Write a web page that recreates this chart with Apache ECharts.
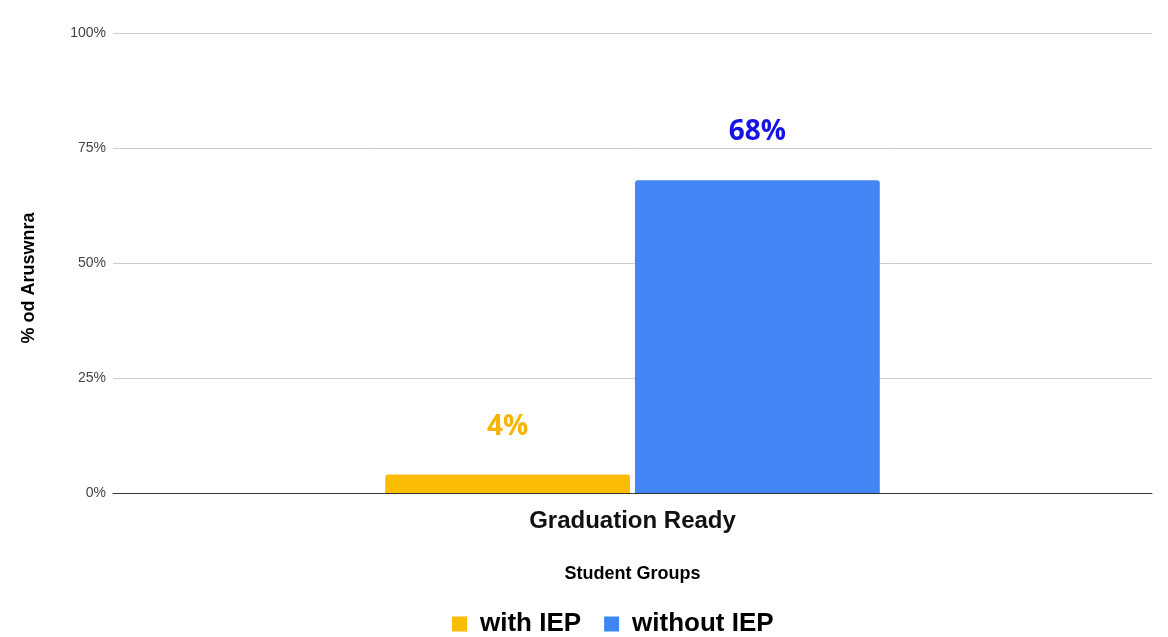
<!DOCTYPE html>
<html>
<head>
<meta charset="utf-8">
<script src="https://cdn.jsdelivr.net/npm/echarts@6/dist/echarts.min.js"></script>
<style>
html,body{margin:0;padding:0;background:#fff;}
#chart{width:1168px;height:637px;}
</style>
</head>
<body>
<div id="chart"></div>
<script>
const categories = ['Graduation Ready'];
const seriesNames = ['with IEP', 'without IEP'];
const withIEP = [4];
const withoutIEP = [68];
const yTicks = [0, 25, 50, 75, 100];

const chart = echarts.init(document.getElementById('chart'));
const labelBase = {
  show: true,
  position: 'top',
  distance: 34,
  fontFamily: 'Open Sans',
  fontWeight: 700,
  fontSize: 28,
  formatter: p => p.value + '%'
};
chart.setOption({
  animation: false,
  color: ['#fbbc04', '#4285f4'],
  grid: { left: 113, right: 16, top: 33, bottom: 144 },
  legend: {
    data: seriesNames,
    bottom: -5,
    left: 447,
    itemWidth: 15,
    itemHeight: 15,
    itemGap: 23,
    icon: 'rect',
    textStyle: { fontFamily: 'Liberation Sans', fontWeight: 700, fontSize: 26, color: '#000', padding: [0,0,0,8] }
  },
  xAxis: {
    type: 'category',
    data: categories,
    name: 'Student Groups',
    nameLocation: 'middle',
    nameGap: 72,
    nameTextStyle: { fontFamily: 'Liberation Sans', fontWeight: 700, fontSize: 18, color: '#000', verticalAlign: 'top' },
    axisTick: { show: false },
    axisLine: { lineStyle: { color: '#333', width: 1 } },
    axisLabel: { fontFamily: 'Liberation Sans', fontWeight: 700, fontSize: 24, color: '#111', margin: 16 }
  },
  yAxis: {
    type: 'value',
    min: yTicks[0],
    max: yTicks[yTicks.length - 1],
    interval: 25,
    name: '% od Aruswnra',
    nameLocation: 'middle',
    nameGap: 75,
    nameTextStyle: { fontFamily: 'Liberation Sans', fontWeight: 700, fontSize: 18, color: '#000', padding: [0, 30, 0, 0] },
    axisLine: { show: false },
    axisTick: { show: false },
    splitLine: { lineStyle: { color: '#cccccc', width: 1 } },
    axisLabel: { fontFamily: 'Liberation Sans', fontSize: 14, color: '#444', margin: 7, formatter: v => v + '%' }
  },
  series: [
    {
      name: seriesNames[0],
      type: 'bar',
      data: withIEP,
      barGap: '2%',
      barCategoryGap: '52.4%',
      itemStyle: { color: '#fbbc04', borderRadius: [3, 3, 0, 0] },
      label: Object.assign({}, labelBase, { color: '#f4b400' })
    },
    {
      name: seriesNames[1],
      type: 'bar',
      data: withoutIEP,
      barGap: '2%',
      barCategoryGap: '52.4%',
      itemStyle: { color: '#4285f4', borderRadius: [3, 3, 0, 0] },
      label: Object.assign({}, labelBase, { color: '#1414e6' })
    }
  ]
});
</script>
</body>
</html>
